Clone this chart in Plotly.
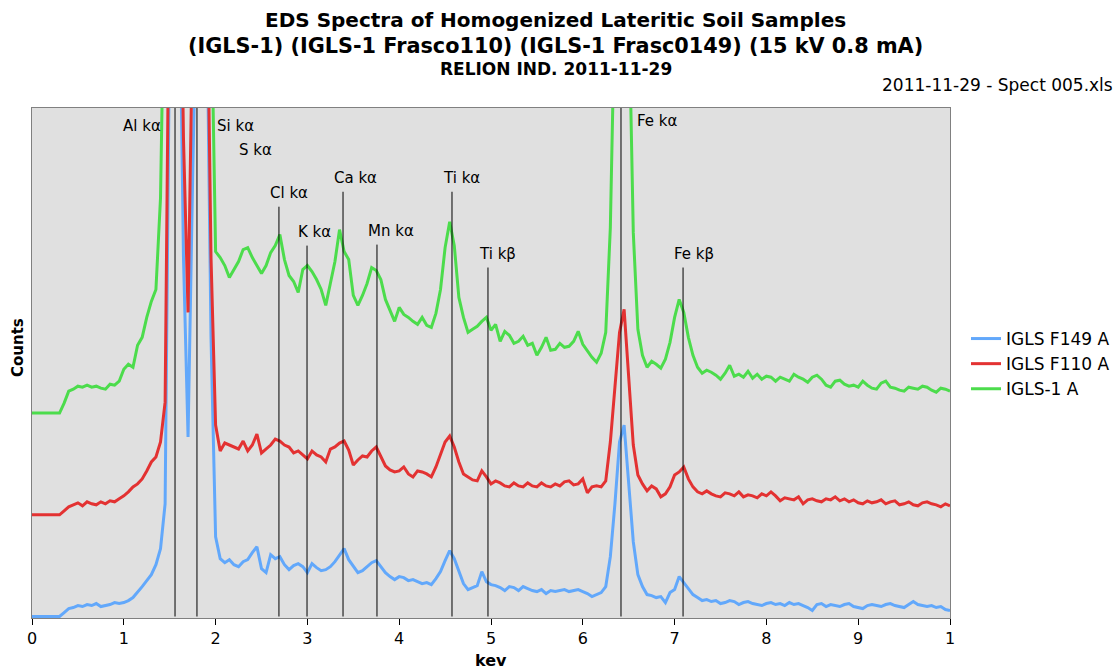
import numpy as np
import plotly.graph_objects as go

# ---------------- data ----------------
energy_kev = np.round(np.arange(0, 10.0001, 0.05), 2)

igls_f149 = [
    0, 0, 0, 0, 0, 0, 0, 4, 8, 9, 11, 10, 12, 11, 13, 10, 11, 12, 14, 13,
    14, 16, 19, 24, 30, 36, 42, 52, 68, 113, 600, 900, 700, 360, 180, 440, 800, 900, 650, 280,
    80, 58, 54, 57, 52, 50, 55, 57, 64, 70, 48, 44, 62, 58, 60, 52, 47, 51, 53, 50,
    44, 53, 49, 46, 47, 50, 55, 62, 68, 57, 50, 44, 46, 50, 54, 56, 50, 44, 40, 37,
    40, 39, 36, 37, 35, 33, 34, 32, 38, 45, 56, 66, 58, 45, 33, 27, 29, 31, 45, 35,
    32, 31, 29, 26, 30, 29, 26, 30, 28, 26, 25, 27, 23, 26, 25, 26, 27, 25, 26, 27,
    25, 23, 20, 22, 24, 30, 60, 113, 175, 192, 135, 75, 42, 30, 22, 21, 19, 20, 14, 24,
    27, 40, 34, 28, 22, 19, 16, 17, 15, 16, 13, 14, 16, 15, 12, 14, 15, 13, 12, 11,
    13, 14, 12, 13, 11, 14, 12, 13, 11, 9, 6, 12, 13, 10, 12, 11, 10, 12, 13, 10,
    9, 8, 11, 12, 11, 10, 12, 13, 11, 10, 9, 12, 15, 12, 11, 10, 11, 9, 10, 7,
    6,
]

igls_f110 = [
    102, 102, 102, 102, 102, 102, 102, 106, 110, 112, 114, 111, 115, 113, 112, 115, 113, 116, 115, 118,
    121, 125, 130, 133, 138, 146, 155, 160, 175, 215, 700, 900, 800, 480, 305, 600, 900, 950, 700, 360,
    192, 166, 174, 172, 170, 168, 176, 166, 172, 183, 164, 168, 172, 178, 176, 172, 170, 164, 166, 162,
    158, 166, 162, 160, 155, 168, 170, 174, 176, 167, 152, 157, 161, 160, 166, 170, 160, 151, 147, 145,
    146, 150, 143, 140, 146, 145, 143, 140, 150, 162, 175, 181, 170, 155, 143, 140, 137, 136, 146, 140,
    133, 136, 134, 131, 130, 134, 131, 130, 134, 131, 130, 134, 131, 130, 133, 131, 135, 136, 132, 133,
    138, 124, 130, 131, 130, 136, 175, 230, 285, 308, 245, 172, 142, 133, 126, 131, 128, 120, 123, 130,
    142, 145, 150, 138, 130, 125, 123, 126, 123, 121, 120, 124, 123, 121, 125, 120, 122, 121, 119, 123,
    121, 125, 121, 116, 119, 118, 117, 120, 113, 117, 118, 116, 115, 118, 117, 120, 116, 118, 115, 117,
    114, 113, 116, 114, 115, 117, 113, 115, 116, 112, 113, 115, 112, 111, 114, 115, 113, 112, 110, 113,
    111,
]

igls_1 = [
    204, 204, 204, 204, 204, 204, 204, 214, 226, 228, 231, 230, 232, 230, 231, 229, 228, 233, 232, 236,
    248, 253, 250, 272, 280, 300, 316, 328, 420, 700, 900, 1000, 950, 800, 700, 800, 950, 1000, 900, 620,
    366, 360, 352, 340, 348, 356, 368, 370, 360, 352, 344, 352, 365, 372, 383, 358, 342, 336, 325, 348,
    352, 346, 338, 328, 312, 334, 356, 388, 366, 358, 322, 312, 322, 334, 350, 347, 338, 318, 306, 296,
    310, 303, 300, 296, 293, 300, 292, 290, 304, 328, 370, 396, 372, 320, 300, 285, 288, 291, 296, 300,
    287, 293, 276, 286, 282, 274, 276, 281, 272, 274, 262, 270, 280, 267, 268, 274, 270, 271, 276, 286,
    273, 266, 260, 255, 264, 285, 390, 620, 900, 950, 620, 385, 288, 262, 250, 256, 253, 249, 258, 275,
    300, 318, 305, 280, 262, 250, 244, 247, 245, 242, 238, 244, 252, 241, 243, 240, 246, 239, 243, 238,
    241, 240, 236, 240, 238, 236, 243, 240, 238, 235, 240, 242, 238, 232, 230, 236, 237, 233, 231, 232,
    230, 236, 232, 229, 228, 234, 236, 230, 229, 227, 226, 230, 229, 228, 231, 230, 227, 225, 229, 228,
    226,
]

series_names = ["IGLS F149 A", "IGLS F110 A", "IGLS-1 A"]

# characteristic lines: label, energy (keV), top of marker line (counts); None = no line
line_labels = ["Al kα", "Si kα", "S kα", "Cl kα", "K kα", "Ca kα", "Mn kα",
               "Ti kα", "Ti kβ", "Fe kα", "Fe kβ"]
line_energy = [1.558, 1.797, 2.34, 2.69, 2.996, 3.388, 3.758, 4.575, 4.967, 6.416, 7.092]
line_top = [510, 510, None, 411, 372, 426, 373, 426, 350, 510, 350]

x_tick_vals = list(range(0, 11))
x_tick_text = ["0", "1", "2", "3", "4", "5", "6", "7", "8", "9", "1"]

# ---------------- style ----------------
colors = ["#62A8FB", "#E33232", "#4CDC4C"]
FONT = "DejaVu Sans"
Y_MAX = 510
L, R, T, B = 32, 169, 108, 54
W, H = 1119, 672
PW, PH = W - L - R, H - T - B

def px_x(px):
    return (px - L) / PW

def px_y(py):
    return (H - B - py) / PH

fig = go.Figure()
for name, vals, col in zip(series_names, [igls_f149, igls_f110, igls_1], colors):
    assert len(vals) == len(energy_kev), (name, len(vals))
    fig.add_trace(go.Scatter(
        x=energy_kev, y=vals, mode="lines", name=name,
        line=dict(color=col, width=3), hoverinfo="x+y+name",
    ))

# vertical marker lines
lx, ly = [], []
for e, top in zip(line_energy, line_top):
    if top is None:
        continue
    lx += [e, e, None]
    ly += [0, top, None]
fig.add_trace(go.Scatter(x=lx, y=ly, mode="lines", line=dict(color="black", width=1),
                         showlegend=False, hoverinfo="skip"))

# label placement (layout only)
label_style = {
    "Al kα": dict(xanchor="right", xshift=-12, yanchor="top", yshift=-7),
    "Si kα": dict(xanchor="left", xshift=18, yanchor="top", yshift=-7),
    "Fe kα": dict(xanchor="left", xshift=14, yanchor="top", yshift=-2),
}
LAB_FONT = dict(family=FONT, size=15, color="black")
annotations = []
for lab, e, top in zip(line_labels, line_energy, line_top):
    if lab in label_style:
        annotations.append(dict(x=e, y=Y_MAX, xref="x", yref="y", text=lab, showarrow=False,
                                font=LAB_FONT, **label_style[lab]))
    elif top is None:
        annotations.append(dict(x=e, y=468, xref="x", yref="y", text=lab, showarrow=False,
                                xanchor="left", xshift=-10, yanchor="middle", font=LAB_FONT))
    else:
        annotations.append(dict(x=e, y=top, xref="x", yref="y", text=lab, showarrow=False,
                                xanchor="left", xshift=-11, yanchor="bottom", yshift=3,
                                font=LAB_FONT))

annotations += [
    dict(text="<b>EDS Spectra of Homogenized Lateritic Soil Samples</b>", xref="paper", yref="paper",
         x=px_x(555), y=px_y(20), xanchor="center", yanchor="middle", showarrow=False,
         font=dict(family=FONT, size=20, color="black")),
    dict(text="<b>(IGLS-1) (IGLS-1 Frasco110) (IGLS-1 Frasc0149) (15 kV 0.8 mA)</b>", xref="paper",
         yref="paper", x=px_x(555), y=px_y(46), xanchor="center", yanchor="middle",
         showarrow=False, font=dict(family=FONT, size=20.8, color="black")),
    dict(text="<b>RELION IND. 2011-11-29</b>", xref="paper", yref="paper",
         x=px_x(556), y=px_y(69), xanchor="center", yanchor="middle",
         showarrow=False, font=dict(family=FONT, size=17, color="black")),
    dict(text="2011-11-29 - Spect 005.xls", xref="paper", yref="paper",
         x=px_x(1115), y=px_y(85), xanchor="right", yanchor="middle",
         showarrow=False, font=dict(family=FONT, size=17, color="black")),
    dict(text="<b>Counts</b>", xref="paper", yref="paper", x=px_x(18), y=px_y(348),
         xanchor="center", yanchor="middle", textangle=-90, showarrow=False,
         font=dict(family=FONT, size=15, color="black")),
    dict(text="<b>kev</b>", xref="paper", yref="paper", x=px_x(491), y=px_y(660),
         xanchor="center", yanchor="middle", showarrow=False,
         font=dict(family=FONT, size=16, color="black")),
]

fig.update_layout(
    width=W, height=H,
    margin=dict(l=L, r=R, t=T, b=B, autoexpand=False),
    paper_bgcolor="white", plot_bgcolor="#E0E0E0",
    font=dict(family=FONT, size=15, color="black"),
    showlegend=True,
    legend=dict(x=px_x(966), y=px_y(321), xanchor="left", yanchor="top",
                bgcolor="rgba(0,0,0,0)", font=dict(family=FONT, size=17, color="black"),
                traceorder="normal"),
    annotations=annotations,
    xaxis=dict(range=[0, 10], tickvals=x_tick_vals, ticktext=x_tick_text, ticks="outside",
               ticklen=6, tickcolor="black", showgrid=False, zeroline=False, automargin=False,
               showline=True, linecolor="#808080", linewidth=1, mirror=True,
               tickfont=dict(family=FONT, size=16, color="black")),
    yaxis=dict(range=[-1.5, Y_MAX], showticklabels=False, ticks="", showgrid=False, zeroline=False,
               automargin=False, showline=True, linecolor="#808080", linewidth=1, mirror=True),
)

fig.write_html("out.html")
